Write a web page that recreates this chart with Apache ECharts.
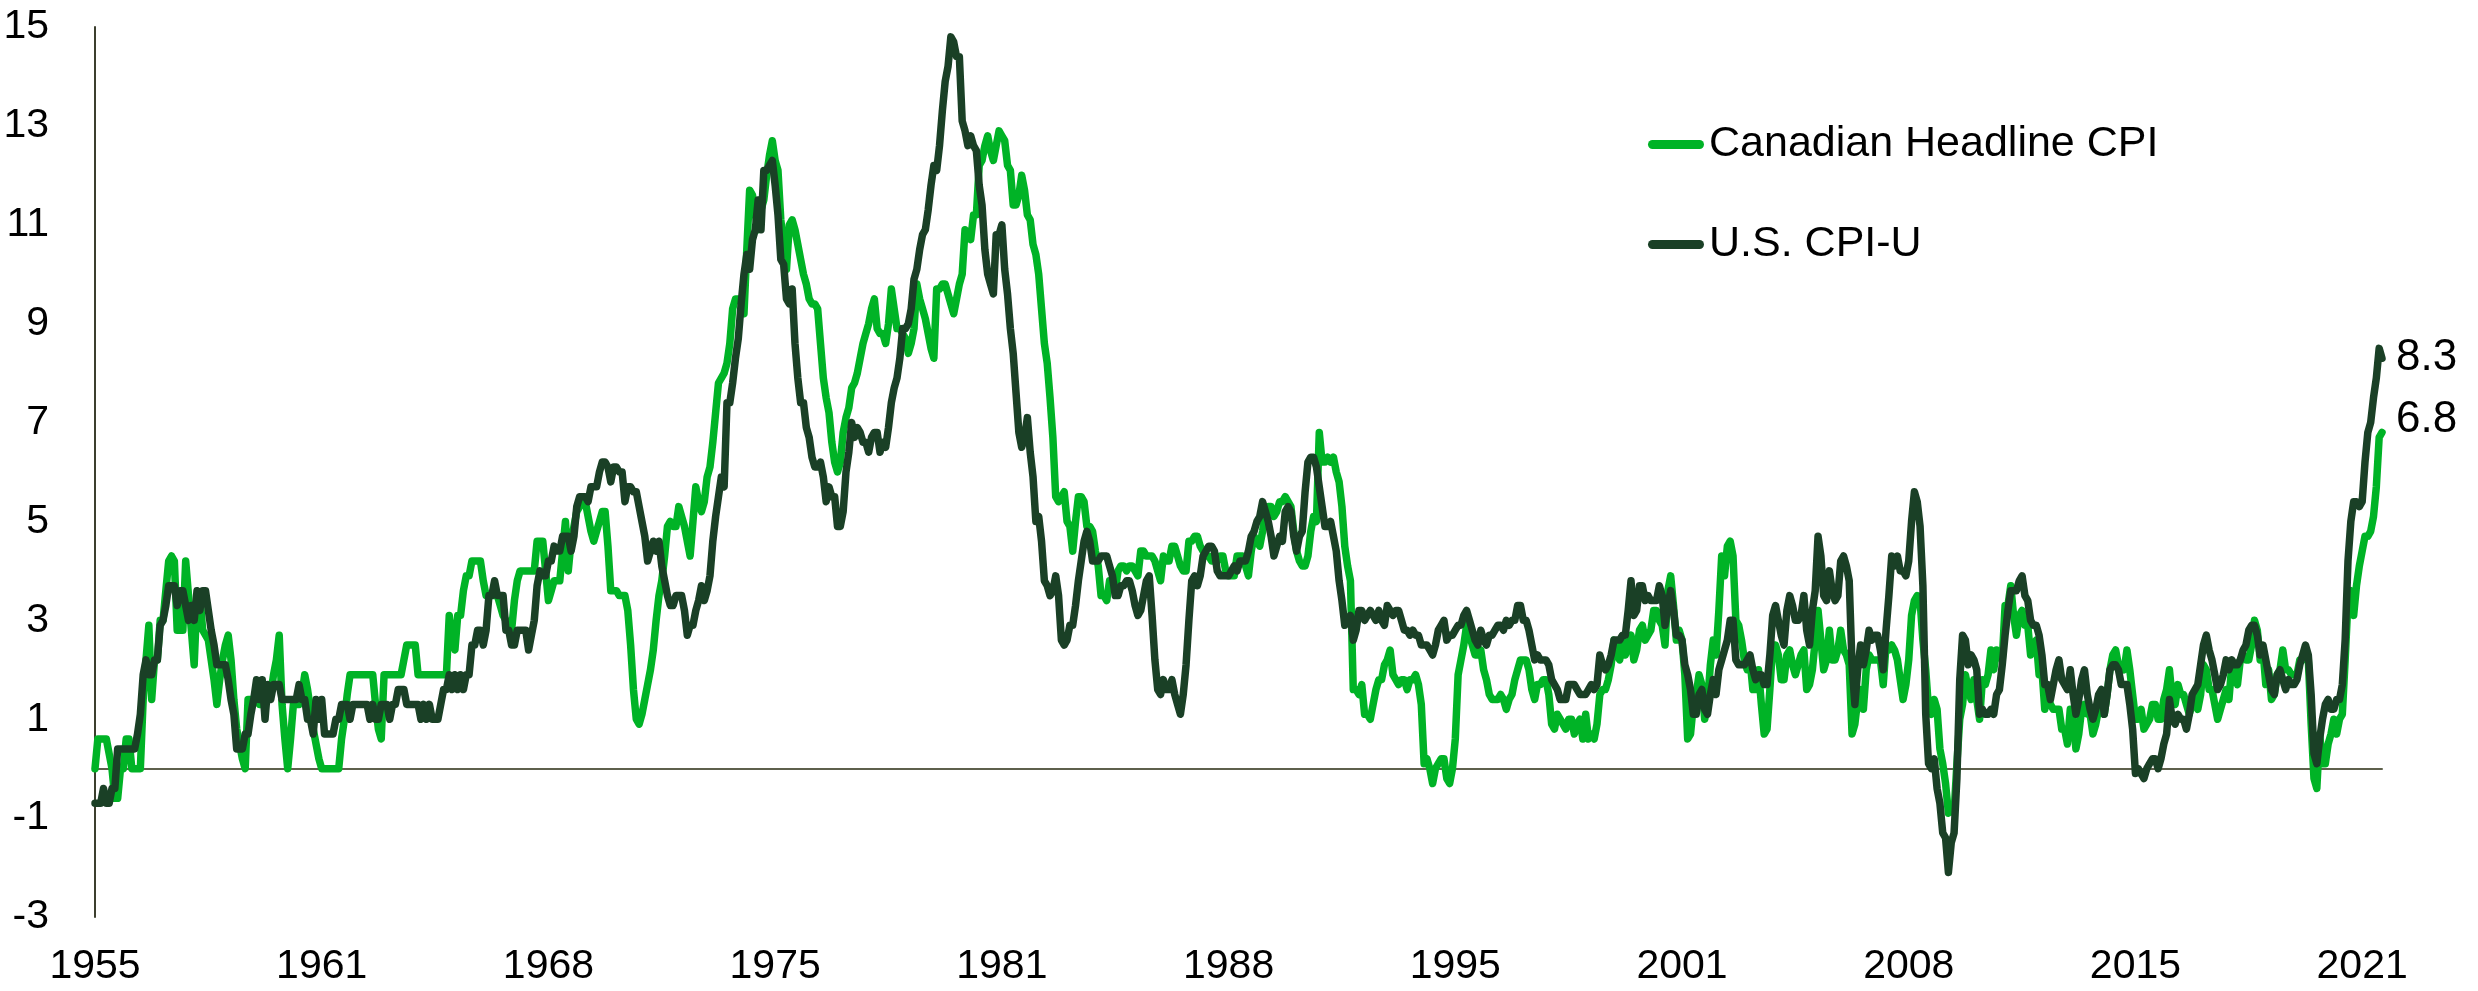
<!DOCTYPE html>
<html><head><meta charset="utf-8">
<script src="https://cdn.jsdelivr.net/npm/echarts@6/dist/echarts.min.js"></script>
<style>html,body{margin:0;padding:0;background:#fff}#c{width:2478px;height:991px}</style>
</head><body><div id="c"></div>
<script>
const startYear = 1955;
const labelEvery = 80;
const tickLabels = ['1955','1961','1968','1975','1981','1988','1995','2001','2008','2015','2021'];
const seriesNames = ['Canadian Headline CPI', 'U.S. CPI-U'];

// Canadian headline CPI, y/y %, monthly Jan 1955 - Apr 2022
const canadaCPI = [
0.0,0.6,0.6,0.6,0.6,0.3,0.0,-0.6,-0.6,0.0,0.0,0.6,
0.6,0.0,0.0,0.0,0.0,1.4,2.2,2.9,1.4,2.2,2.2,3.0,
3.0,3.6,4.2,4.3,4.2,2.8,2.8,2.8,4.2,3.5,2.8,2.1,
3.5,3.5,2.8,2.7,2.6,2.2,1.8,1.3,1.8,2.2,2.5,2.7,
2.2,1.4,0.8,0.5,0.2,0.0,1.4,1.4,1.4,1.4,1.3,1.3,
1.4,1.4,1.5,1.9,2.2,2.7,1.3,0.6,0.0,0.6,1.3,1.3,
1.3,1.5,1.9,1.6,1.2,0.8,0.5,0.2,0.0,0.0,0.0,0.0,
0.0,0.0,0.0,0.6,1.0,1.5,1.9,1.9,1.9,1.9,1.9,1.9,
1.9,1.9,1.9,1.3,0.8,0.6,1.9,1.9,1.9,1.9,1.9,1.9,
1.9,2.2,2.5,2.5,2.5,2.5,1.9,1.9,1.9,1.9,1.9,1.9,
1.9,1.9,1.9,1.9,1.9,3.1,2.6,2.4,3.1,3.1,3.6,3.9,
3.9,4.2,4.2,4.2,4.2,3.8,3.5,3.5,3.5,3.5,3.5,3.3,
3.1,3.0,2.9,2.8,3.4,3.8,4.0,4.0,4.0,4.0,4.0,4.0,
4.6,4.6,4.6,4.0,3.4,3.6,3.8,3.8,3.8,4.4,5.0,4.0,
4.6,4.9,5.2,5.3,5.5,5.4,5.1,4.8,4.6,4.8,5.0,5.2,
5.2,4.5,3.6,3.6,3.6,3.5,3.5,3.5,3.2,2.5,1.6,1.0,
0.9,1.1,1.4,1.7,2.0,2.4,3.0,3.5,3.8,4.3,4.9,5.0,
4.9,4.9,5.3,5.1,4.9,4.6,4.3,5.0,5.7,5.4,5.2,5.4,
5.9,6.1,6.6,7.2,7.8,7.9,8.0,8.2,8.6,9.3,9.5,9.5,
9.5,9.2,10.5,11.7,11.6,11.2,10.9,11.3,11.5,12.0,12.4,12.7,
12.3,12.1,11.1,10.6,10.1,11.0,11.1,10.9,10.6,10.3,10.0,9.8,
9.5,9.4,9.4,9.3,8.6,7.9,7.5,7.2,6.6,6.2,6.0,6.2,
6.8,7.1,7.3,7.7,7.8,8.0,8.3,8.6,8.8,9.0,9.3,9.5,
8.9,8.8,8.8,8.6,9.0,9.7,9.3,8.9,8.9,8.8,8.7,8.4,
8.6,8.9,9.8,9.5,9.3,9.1,8.8,8.5,8.3,9.7,9.7,9.8,
9.8,9.6,9.4,9.2,9.5,9.8,10.0,10.9,10.8,10.7,11.2,11.2,
12.2,12.3,12.6,12.8,12.5,12.3,12.6,12.9,12.8,12.7,12.2,12.1,
11.4,11.4,11.6,12.0,11.7,11.2,11.1,10.6,10.4,10.0,9.3,8.6,
8.2,7.5,6.7,5.5,5.4,5.5,5.6,5.0,4.9,4.4,5.0,5.5,
5.5,5.4,4.9,4.9,4.8,4.4,4.1,3.5,3.5,3.4,3.8,3.7,
3.6,4.0,4.1,4.1,4.0,4.1,4.1,4.0,3.9,4.4,4.4,4.3,
4.3,4.3,4.2,4.0,3.8,4.3,4.2,4.2,4.5,4.5,4.3,4.1,
4.0,4.0,4.6,4.6,4.7,4.7,4.5,4.4,4.3,4.3,4.2,4.2,
4.2,4.3,4.3,4.0,3.9,3.9,3.9,4.3,4.3,4.3,4.1,3.9,
4.4,4.7,4.6,4.5,4.8,5.2,5.3,5.3,5.1,5.2,5.4,5.4,
5.5,5.4,5.3,4.8,4.4,4.2,4.1,4.1,4.3,4.8,5.1,5.0,
6.8,6.2,6.2,6.3,6.2,6.3,6.0,5.8,5.3,4.5,4.1,3.8,
1.6,1.6,1.5,1.7,1.1,1.1,1.0,1.3,1.6,1.8,1.8,2.1,
2.2,2.4,1.9,1.8,1.7,1.8,1.8,1.6,1.8,1.8,1.9,1.7,
1.3,0.1,0.2,0.0,-0.3,0.0,0.1,0.2,0.2,-0.2,-0.3,0.0,
0.6,1.9,2.2,2.5,2.9,2.7,2.5,2.3,2.3,2.4,2.0,1.8,
1.5,1.4,1.4,1.4,1.5,1.4,1.2,1.4,1.5,1.8,2.0,2.2,
2.2,2.2,2.0,1.6,1.4,1.7,1.7,1.8,1.8,1.5,0.9,0.8,
1.1,1.0,0.9,0.8,1.0,1.0,0.7,0.9,1.0,0.6,1.1,0.6,
0.7,0.6,0.9,1.5,1.6,1.6,1.8,2.1,2.6,2.3,2.2,2.6,
2.3,2.5,2.7,2.2,2.4,2.8,2.9,2.6,2.7,2.8,3.2,3.2,
3.0,2.9,2.5,3.6,3.9,3.3,2.6,2.8,2.6,1.9,0.6,0.7,
1.3,1.5,1.9,1.7,1.0,1.3,2.1,2.6,2.3,3.2,4.3,3.9,
4.5,4.6,4.3,3.0,2.9,2.6,2.2,2.0,2.2,1.6,1.6,2.0,
1.3,0.7,0.8,1.6,2.5,2.5,2.3,1.8,1.8,2.3,2.4,2.1,
1.9,2.1,2.3,2.4,1.6,1.7,2.0,2.6,3.2,2.6,2.0,2.2,
2.8,2.2,2.2,2.4,2.8,2.4,2.3,2.1,0.7,0.9,1.4,1.6,
1.2,2.0,2.3,2.2,2.2,2.2,2.2,1.7,2.5,2.4,2.5,2.4,
2.2,1.8,1.4,1.7,2.2,3.1,3.4,3.5,3.4,2.6,2.0,1.2,
1.1,1.4,1.2,0.4,0.1,-0.3,-0.9,-0.8,-0.9,0.1,1.0,1.3,
1.9,1.6,1.4,1.8,1.4,1.0,1.8,1.7,1.9,2.4,2.0,2.4,
2.3,2.2,3.3,3.3,3.7,3.1,2.7,3.1,3.2,2.9,2.9,2.3,
2.5,2.6,1.9,2.0,1.2,1.5,1.3,1.2,1.2,1.2,0.8,0.8,
0.5,1.2,1.0,0.4,0.7,1.2,1.3,1.1,1.1,0.7,0.9,1.2,
1.5,1.1,1.5,2.0,2.3,2.4,2.1,2.1,2.0,2.4,2.0,1.5,
1.0,1.0,1.2,0.8,0.9,1.0,1.3,1.3,1.0,1.0,1.4,1.6,
2.0,1.4,1.3,1.7,1.5,1.5,1.3,1.1,1.3,1.5,1.2,1.5,
2.1,2.0,1.6,1.6,1.3,1.0,1.2,1.4,1.6,1.4,2.1,1.9,
1.7,2.2,2.3,2.2,2.2,2.5,3.0,2.8,2.2,2.4,1.7,2.0,
1.4,1.5,1.9,2.0,2.4,2.0,2.0,1.9,1.9,1.9,2.2,2.2,
2.4,2.2,0.9,-0.2,-0.4,0.7,0.1,0.1,0.5,0.7,1.0,0.7,
1.0,1.1,2.2,3.4,3.6,3.1,3.7,4.1,4.4,4.7,4.7,4.8,
5.1,5.7,6.7,6.8
];

// U.S. CPI-U, y/y %, monthly Jan 1955 - Apr 2022
const usCPI = [
-0.7,-0.7,-0.7,-0.4,-0.7,-0.7,-0.4,-0.4,0.4,0.4,0.4,0.4,
0.4,0.4,0.4,0.7,1.1,1.9,2.2,1.9,1.9,2.2,2.2,2.9,
3.0,3.3,3.7,3.7,3.7,3.3,3.6,3.6,3.3,3.0,3.3,3.0,
3.6,3.2,3.6,3.6,3.2,2.8,2.5,2.1,2.1,2.1,2.1,1.8,
1.4,1.1,0.4,0.4,0.4,0.7,0.7,1.1,1.4,1.8,1.4,1.8,
1.0,1.7,1.4,1.7,1.7,1.7,1.4,1.4,1.4,1.4,1.4,1.4,
1.7,1.4,1.4,1.0,1.0,0.7,1.4,1.0,1.4,0.7,0.7,0.7,
0.7,1.0,1.0,1.3,1.3,1.3,1.0,1.3,1.3,1.3,1.3,1.3,
1.3,1.0,1.3,1.0,1.0,1.3,1.3,1.3,1.0,1.3,1.3,1.6,
1.6,1.6,1.3,1.3,1.3,1.3,1.3,1.0,1.3,1.0,1.3,1.0,
1.0,1.0,1.3,1.6,1.6,1.9,1.6,1.9,1.6,1.9,1.6,1.9,
1.9,2.5,2.5,2.8,2.8,2.5,2.8,3.5,3.5,3.8,3.5,3.5,
3.5,2.8,2.8,2.5,2.5,2.8,2.8,2.8,2.8,2.4,2.7,3.0,
3.7,4.0,3.9,3.9,4.2,4.2,4.5,4.4,4.4,4.7,4.7,4.7,
4.4,4.7,5.3,5.5,5.5,5.5,5.4,5.7,5.7,5.7,6.0,6.2,
6.2,6.1,5.8,6.1,6.1,6.0,6.0,5.4,5.7,5.7,5.6,5.6,
5.3,5.0,4.7,4.2,4.4,4.6,4.4,4.6,4.1,3.8,3.5,3.3,
3.3,3.5,3.5,3.5,3.2,2.7,2.9,2.9,3.2,3.4,3.7,3.4,
3.6,3.9,4.6,5.1,5.5,5.9,5.7,7.4,7.4,7.8,8.3,8.7,
9.4,10.0,10.4,10.1,10.7,10.9,11.5,10.9,12.1,12.1,12.2,12.3,
11.8,11.2,10.3,10.2,9.5,9.4,9.7,8.6,7.9,7.4,7.4,6.9,
6.7,6.3,6.1,6.1,6.2,5.9,5.4,5.7,5.5,5.5,4.9,4.9,
5.2,6.0,6.4,7.0,6.7,6.9,6.8,6.6,6.6,6.4,6.7,6.8,
6.8,6.4,6.6,6.5,6.9,7.4,7.7,7.9,8.3,8.9,8.9,9.0,
9.3,9.9,10.1,10.5,10.8,10.9,11.3,11.8,12.2,12.1,12.6,13.3,
13.9,14.2,14.8,14.7,14.4,14.4,13.1,12.9,12.6,12.8,12.6,12.5,
11.8,11.4,10.5,10.0,9.8,9.6,10.8,10.8,11.0,10.1,9.6,8.9,
8.4,7.6,6.8,6.5,6.7,7.1,6.4,5.9,5.0,5.1,4.6,3.8,
3.7,3.5,3.6,3.9,3.5,2.6,2.5,2.6,2.9,2.9,3.3,3.8,
4.2,4.6,4.8,4.6,4.2,4.2,4.2,4.3,4.3,4.3,4.1,3.9,
3.5,3.5,3.7,3.7,3.8,3.8,3.6,3.3,3.1,3.2,3.5,3.8,
3.9,3.1,2.2,1.6,1.5,1.8,1.6,1.6,1.8,1.5,1.3,1.1,
1.5,2.1,3.0,3.8,3.9,3.7,3.9,4.3,4.4,4.5,4.5,4.4,
4.0,3.9,3.9,3.9,3.9,4.0,4.1,4.0,4.2,4.2,4.2,4.4,
4.7,4.8,5.0,5.1,5.4,5.2,5.0,4.7,4.3,4.5,4.7,4.6,
5.2,5.3,5.2,4.7,4.4,4.7,4.8,5.6,6.2,6.3,6.3,6.1,
5.7,5.3,4.9,4.9,5.0,4.7,4.4,3.8,3.4,2.9,3.0,3.1,
2.6,2.8,3.2,3.2,3.0,3.1,3.2,3.1,3.0,3.2,3.0,2.9,
3.3,3.2,3.1,3.2,3.2,3.0,2.8,2.8,2.7,2.8,2.7,2.7,
2.5,2.5,2.5,2.4,2.3,2.5,2.8,2.9,3.0,2.6,2.7,2.7,
2.8,2.9,2.9,3.1,3.2,3.0,2.8,2.6,2.5,2.8,2.6,2.5,
2.7,2.7,2.8,2.9,2.9,2.8,3.0,2.9,3.0,3.0,3.3,3.3,
3.0,3.0,2.8,2.5,2.2,2.3,2.2,2.2,2.2,2.1,1.8,1.7,
1.6,1.4,1.4,1.4,1.7,1.7,1.7,1.6,1.5,1.5,1.5,1.6,
1.7,1.6,1.7,2.3,2.1,2.0,2.1,2.3,2.6,2.6,2.6,2.7,
2.7,3.2,3.8,3.1,3.2,3.7,3.7,3.4,3.5,3.4,3.4,3.4,
3.7,3.5,2.9,3.3,3.6,3.2,2.7,2.7,2.6,2.1,1.9,1.6,
1.1,1.1,1.5,1.6,1.2,1.1,1.5,1.8,1.5,2.0,2.2,2.4,
2.6,3.0,3.0,2.2,2.1,2.1,2.1,2.2,2.3,2.0,1.8,1.9,
1.9,1.7,1.7,2.3,3.1,3.3,3.0,2.7,2.5,3.2,3.5,3.3,
3.0,3.0,3.1,3.5,2.8,2.5,3.2,3.6,4.7,4.3,3.5,3.4,
4.0,3.6,3.4,3.5,4.2,4.3,4.1,3.8,2.1,1.3,2.0,2.5,
2.1,2.4,2.8,2.6,2.7,2.7,2.4,2.0,2.8,3.5,4.3,4.1,
4.3,4.0,4.0,3.9,4.2,5.0,5.6,5.4,4.9,3.7,1.1,0.1,
0.0,0.2,-0.4,-0.7,-1.3,-1.4,-2.1,-1.5,-1.3,-0.2,1.8,2.7,
2.6,2.1,2.3,2.2,2.0,1.1,1.2,1.1,1.1,1.2,1.1,1.5,
1.6,2.1,2.7,3.2,3.6,3.6,3.6,3.8,3.9,3.5,3.4,3.0,
2.9,2.9,2.7,2.3,1.7,1.7,1.4,1.7,2.0,2.2,1.8,1.7,
1.6,2.0,1.5,1.1,1.4,1.8,2.0,1.5,1.2,1.0,1.2,1.5,
1.6,1.1,1.5,2.0,2.1,2.1,2.0,1.7,1.7,1.7,1.3,0.8,
-0.1,0.0,-0.1,-0.2,0.0,0.1,0.2,0.2,0.0,0.2,0.5,0.7,
1.4,1.0,0.9,1.1,1.0,1.0,0.8,1.1,1.5,1.6,1.7,2.1,
2.5,2.7,2.4,2.2,1.9,1.6,1.7,1.9,2.2,2.0,2.2,2.1,
2.1,2.2,2.4,2.5,2.8,2.9,2.9,2.7,2.3,2.5,2.2,1.9,
1.6,1.5,1.9,2.0,1.8,1.6,1.8,1.7,1.7,1.8,2.1,2.3,
2.5,2.3,1.5,0.3,0.1,0.6,1.0,1.3,1.4,1.2,1.2,1.4,
1.4,1.7,2.6,4.2,5.0,5.4,5.4,5.3,5.4,6.2,6.8,7.0,
7.5,7.9,8.5,8.3
];

const months = usCPI.map((_, i) => (startYear + Math.floor(i / 12)) + '-' + String(i % 12 + 1).padStart(2, '0'));

const FONT = '"Liberation Sans", Arial, sans-serif';
const chart = echarts.init(document.getElementById('c'), null, {renderer: 'canvas'});
chart.setOption({
  animation: false,
  backgroundColor: '#ffffff',
  grid: {left: 95, right: 96, top: 27, bottom: 74, containLabel: false},
  legend: {
    orient: 'vertical', left: 1643, top: 118, itemGap: 57,
    itemWidth: 56, itemHeight: 9,
    icon: 'path://M4.5,0 L51.5,0 A4.5,4.5 0 0 1 51.5,9 L4.5,9 A4.5,4.5 0 0 1 4.5,0 Z',
    textStyle: {fontFamily: FONT, fontSize: 43, color: '#000'},
    data: seriesNames
  },
  xAxis: [{
    type: 'category', data: months, boundaryGap: false, position: 'bottom',
    axisLine: {show: false, onZero: false}, axisTick: {show: false},
    axisLabel: {
      interval: labelEvery - 1, margin: 29, color: '#000', fontFamily: FONT, fontSize: 41,
      formatter: (v, i) => tickLabels[Math.round(i / labelEvery)] || ''
    },
    splitLine: {show: false}
  }, {
    type: 'category', data: months, boundaryGap: false, position: 'bottom',
    axisLine: {show: true, onZero: true, lineStyle: {color: '#5e604c', width: 2}},
    axisTick: {show: false}, axisLabel: {show: false}, splitLine: {show: false}
  }],
  yAxis: {
    type: 'value', min: -3, max: 15, interval: 2,
    axisLine: {show: true, lineStyle: {color: '#3c3f2e', width: 2}},
    axisTick: {show: false}, splitLine: {show: false},
    axisLabel: {margin: 46, color: '#000', fontFamily: FONT, fontSize: 41}
  },
  series: [{
    name: seriesNames[0], type: 'line', data: canadaCPI, showSymbol: false, symbol: 'none',
    color: '#00b326', z: 3,
    lineStyle: {width: 7.5, color: '#00b326', cap: 'round', join: 'round'},
    endLabel: {show: true, formatter: p => p.value.toFixed(1), distance: 14, offset: [0, -13],
      fontFamily: FONT, fontSize: 44, color: '#000'}
  }, {
    name: seriesNames[1], type: 'line', data: usCPI, showSymbol: false, symbol: 'none',
    color: '#1a4026', z: 4,
    lineStyle: {width: 7.5, color: '#1a4026', cap: 'round', join: 'round'},
    endLabel: {show: true, formatter: p => p.value.toFixed(1), distance: 14,
      fontFamily: FONT, fontSize: 44, color: '#000'}
  }]
});
</script></body></html>
